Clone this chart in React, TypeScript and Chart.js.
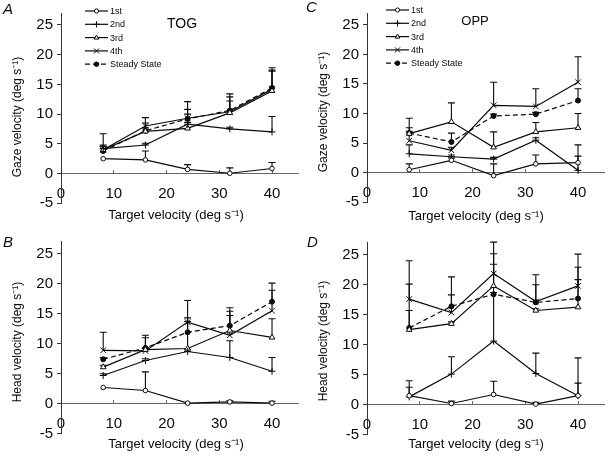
import React, { useEffect, useRef } from 'react';
import { Chart, registerables } from 'chart.js';

Chart.register(...registerables);

const FONT = '"Liberation Sans", Arial, Helvetica, sans-serif';
const W = 306;
const H = 228;
const INK = '#0a0a0a';

// ---------- data ----------
const targetVelocity = [8, 16, 24, 32, 40];
const xTickValues = [0, 10, 20, 30, 40];
const yTickValues = [-5, 0, 5, 10, 15, 20, 25];
const seriesLabels = ['1st', '2nd', '3rd', '4th', 'Steady State'];

// A: gaze velocity, TOG
const gazeTog1st = [2.5, 2.3, 0.7, 0.05, 0.85];
const gazeTog1stErr = [0, 1.5, 0.8, 0.9, 1.0];
const gazeTog2nd = [4.2, 4.8, 8.3, 7.5, 7.0];
const gazeTog2ndErr = [0.4, 0.3, 0.3, 0.3, 2.6];
const gazeTog3rd = [4.0, 7.1, 7.6, 10.2, 13.9];
const gazeTog3rdErr = [0.6, 0.6, 4.5, 2.0, 3.3];
const gazeTog4th = [4.0, 8.0, 9.3, 10.4, 14.2];
const gazeTog4thErr = [2.7, 1.4, 1.5, 3.0, 3.6];
const gazeTogSteady = [3.8, 7.2, 9.2, 10.6, 14.4];
const gazeTogSteadyErr = [1.0, 1.3, 0.8, 2.3, 3.0];

// B: head velocity, TOG
const headTog1st = [2.7, 2.2, 0.1, 0.3, 0.1];
const headTog1stErr = [0, 3.1, 0, 0.2, 0.3];
const headTog2nd = [4.7, 7.2, 8.7, 7.7, 5.4];
const headTog2ndErr = [0.3, 0.3, 0.3, 2.8, 2.3];
const headTog3rd = [6.1, 9.0, 9.2, 12.2, 11.05];
const headTog3rdErr = [0.3, 0.3, 4.5, 3.2, 3.1];
const headTog4th = [8.9, 8.8, 13.6, 11.4, 15.5];
const headTog4thErr = [3.0, 2.2, 3.6, 3.3, 3.4];
const headTogSteady = [7.4, 9.3, 11.9, 13.0, 17.0];
const headTogSteadyErr = [0.3, 2.1, 2.4, 3.0, 3.1];

// C: gaze velocity, OPP
const gazeOpp1st = [0.5, 2.1, -0.5, 1.5, 1.7];
const gazeOpp1stErr = [1.0, 0.4, 2.0, 1.5, 3.0];
const gazeOpp2nd = [3.2, 2.7, 2.3, 5.5, 0.4];
const gazeOpp2ndErr = [1.5, 0.3, 0.3, 0.4, 2.4];
const gazeOpp3rd = [6.6, 8.6, 4.3, 6.9, 7.6];
const gazeOpp3rdErr = [2.6, 3.2, 2.6, 1.6, 2.4];
const gazeOpp4th = [5.4, 3.8, 11.4, 11.2, 15.3];
const gazeOpp4thErr = [2.2, 0.5, 3.9, 3.0, 4.3];
const gazeOppSteady = [6.7, 5.2, 9.6, 9.9, 12.2];
const gazeOppSteadyErr = [0.3, 1.5, 0.3, 0.3, 2.0];

// D: head velocity, OPP
const headOpp1st = [1.5, 0.2, 1.7, 0.1, 1.5];
const headOpp1stErr = [2.5, 0.4, 2.2, 0.3, 2.1];
const headOpp2nd = [1.3, 5.1, 10.6, 5.2, 1.5];
const headOpp2ndErr = [1.6, 2.9, 16.5, 3.4, 6.3];
const headOpp3rd = [12.5, 13.5, 19.8, 15.7, 16.25];
const headOpp3rdErr = [7.6, 0.3, 3.6, 0.3, 4.6];
const headOpp4th = [17.6, 15.35, 21.85, 17.2, 19.8];
const headOpp4thErr = [6.4, 2.95, 3.3, 2.8, 5.3];
const headOppSteady = [12.8, 16.4, 18.4, 17.05, 17.7];
const headOppSteadyErr = [2.9, 4.9, 0.3, 4.6, 5.2];

// ---------- styles ----------
const pointStyles = ['circle', 'cross', 'triangle', 'crossRot', 'circle'];
const pointRadii = [2.3, 3.5, 3.3, 4, 2.5];
const pointFills = ['#ffffff', INK, '#ffffff', INK, INK];
const lineDashes: number[][] = [[], [], [], [], [5, 3]];

type Panel = {
  key: string;
  letter: string;
  cond: string | null;
  yTitle: string;
  legend: boolean;
  series: number[][];
  errs: number[][];
  zeroDash: number[];
  left: number;
  top: number;
  chartTop: number;
  chartBottom: number;
  letterX: number;
  letterY: number;
  condX: number;
  condY: number;
  condSize: number;
  xTitleX: number;
  xTitleY: number;
  yTitleY: number;
  legendX: number;
  legendY: number;
};

const panels: Panel[] = [
  {
    key: 'A', letter: 'A', cond: 'TOG', yTitle: 'Gaze velocity (deg s\u207B\u00B9)', legend: true,
    series: [gazeTog1st, gazeTog2nd, gazeTog3rd, gazeTog4th, gazeTogSteady],
    errs: [gazeTog1stErr, gazeTog2ndErr, gazeTog3rdErr, gazeTog4thErr, gazeTogSteadyErr],
    zeroDash: [], left: 0, top: 0, chartTop: 11.3, chartBottom: 203.3,
    letterX: 3, letterY: 14, condX: 182, condY: 27.5, condSize: 14,
    xTitleX: 176, xTitleY: 215, yTitleY: 117, legendX: 85, legendY: 11,
  },
  {
    key: 'C', letter: 'C', cond: 'OPP', yTitle: 'Gaze velocity (deg s\u207B\u00B9)', legend: true,
    series: [gazeOpp1st, gazeOpp2nd, gazeOpp3rd, gazeOpp4th, gazeOppSteady],
    errs: [gazeOpp1stErr, gazeOpp2ndErr, gazeOpp3rdErr, gazeOpp4thErr, gazeOppSteadyErr],
    zeroDash: [], left: 306, top: 0, chartTop: 10.3, chartBottom: 202.3,
    letterX: 0, letterY: 12, condX: 169, condY: 25, condSize: 13,
    xTitleX: 170, xTitleY: 216.5, yTitleY: 112, legendX: 80, legendY: 10,
  },
  {
    key: 'B', letter: 'B', cond: null, yTitle: 'Head velocity (deg s\u207B\u00B9)', legend: false,
    series: [headTog1st, headTog2nd, headTog3rd, headTog4th, headTogSteady],
    errs: [headTog1stErr, headTog2ndErr, headTog3rdErr, headTog4thErr, headTogSteadyErr],
    zeroDash: [], left: 0, top: 228, chartTop: 13.7, chartBottom: 205.7,
    letterX: 3, letterY: 18.5, condX: 0, condY: 0, condSize: 13,
    xTitleX: 176, xTitleY: 216.5, yTitleY: 114, legendX: 0, legendY: 0,
  },
  {
    key: 'D', letter: 'D', cond: null, yTitle: 'Head velocity (deg s\u207B\u00B9)', legend: false,
    series: [headOpp1st, headOpp2nd, headOpp3rd, headOpp4th, headOppSteady],
    errs: [headOpp1stErr, headOpp2ndErr, headOpp3rdErr, headOpp4thErr, headOppSteadyErr],
    zeroDash: [5, 2, 1, 2], left: 306, top: 228, chartTop: 14.7, chartBottom: 206.7,
    letterX: 1, letterY: 18.5, condX: 0, condY: 0, condSize: 13,
    xTitleX: 170, xTitleY: 216.5, yTitleY: 113, legendX: 0, legendY: 0,
  },
];

function drawMarker(ctx: CanvasRenderingContext2D, style: string, x: number, y: number, r: number, fill: string) {
  ctx.save();
  ctx.setLineDash([]);
  ctx.lineWidth = 1;
  ctx.strokeStyle = INK;
  ctx.fillStyle = fill;
  ctx.beginPath();
  if (style === 'circle') {
    ctx.arc(x, y, r, 0, Math.PI * 2);
    ctx.fill();
    ctx.stroke();
  } else if (style === 'triangle') {
    const rr = r * 0.85;
    ctx.moveTo(x, y - rr);
    ctx.lineTo(x - rr * 0.9, y + rr * 0.6);
    ctx.lineTo(x + rr * 0.9, y + rr * 0.6);
    ctx.closePath();
    ctx.fill();
    ctx.stroke();
  } else if (style === 'cross') {
    ctx.moveTo(x, y - r);
    ctx.lineTo(x, y + r);
    ctx.moveTo(x - r, y);
    ctx.lineTo(x + r, y);
    ctx.stroke();
  } else {
    const d = r * 0.7071;
    ctx.moveTo(x - d, y - d);
    ctx.lineTo(x + d, y + d);
    ctx.moveTo(x + d, y - d);
    ctx.lineTo(x - d, y + d);
    ctx.stroke();
  }
  ctx.restore();
}

function makeDecor(p: Panel) {
  return {
    id: 'decor' + p.key,
    beforeDatasetsDraw(chart: any) {
      const ctx: CanvasRenderingContext2D = chart.ctx;
      const ys = chart.scales.y;
      ctx.save();
      ctx.strokeStyle = INK;
      ctx.lineWidth = 1.1;
      ctx.setLineDash([]);
      p.errs.forEach((errArr, i) => {
        const meta = chart.getDatasetMeta(i);
        errArr.forEach((e, j) => {
          if (!(e > 0)) return;
          const pt = meta.data[j];
          const x = pt.x;
          const y0 = pt.y;
          const y1 = ys.getPixelForValue(p.series[i][j] + e);
          ctx.beginPath();
          ctx.moveTo(x, y0);
          ctx.lineTo(x, y1);
          ctx.moveTo(x - 3.5, y1);
          ctx.lineTo(x + 3.5, y1);
          ctx.stroke();
        });
      });
      ctx.restore();
    },
    afterDraw(chart: any) {
      const ctx: CanvasRenderingContext2D = chart.ctx;
      ctx.save();
      ctx.fillStyle = INK;
      // panel letter
      ctx.font = `italic 15px ${FONT}`;
      ctx.textAlign = 'left';
      ctx.textBaseline = 'alphabetic';
      ctx.fillText(p.letter, p.letterX, p.letterY);
      // condition label
      if (p.cond) {
        ctx.font = `${p.condSize}px ${FONT}`;
        ctx.textAlign = 'center';
        ctx.fillText(p.cond, p.condX, p.condY);
      }
      // x title
      ctx.font = `13px ${FONT}`;
      ctx.textAlign = 'center';
      ctx.textBaseline = 'middle';
      ctx.fillText('Target velocity (deg s\u207B\u00B9)', p.xTitleX, p.xTitleY);
      // y title
      ctx.save();
      ctx.translate(18, p.yTitleY);
      ctx.rotate(-Math.PI / 2);
      ctx.font = `12px ${FONT}`;
      ctx.fillText(p.yTitle, 0, 0);
      ctx.restore();
      // legend
      if (p.legend) {
        seriesLabels.forEach((lab, i) => {
          const y = p.legendY + i * 13.3;
          ctx.save();
          ctx.strokeStyle = INK;
          ctx.lineWidth = 1.2;
          ctx.setLineDash(lineDashes[i]);
          ctx.beginPath();
          ctx.moveTo(p.legendX, y);
          ctx.lineTo(p.legendX + 23, y);
          ctx.stroke();
          ctx.restore();
          drawMarker(ctx, pointStyles[i], p.legendX + 11.5, y, pointRadii[i] * 0.9, pointFills[i]);
          ctx.font = `9px ${FONT}`;
          ctx.textAlign = 'left';
          ctx.textBaseline = 'middle';
          ctx.fillStyle = INK;
          ctx.fillText(lab, p.legendX + 25, y + 0.5);
        });
      }
      ctx.restore();
    },
  };
}

function buildConfig(p: Panel): any {
  return {
    type: 'line',
    data: {
      datasets: p.series.map((vals, i) => ({
        label: seriesLabels[i],
        data: targetVelocity.map((x, j) => ({ x, y: vals[j] })),
        borderColor: INK,
        borderWidth: 1.2,
        borderDash: lineDashes[i],
        pointStyle: pointStyles[i],
        pointRadius: pointRadii[i],
        pointBackgroundColor: pointFills[i],
        pointBorderColor: INK,
        pointBorderWidth: 1,
        tension: 0,
        fill: false,
      })),
    },
    options: {
      responsive: false,
      animation: false,
      events: [],
      layout: { padding: { top: p.chartTop, bottom: H - p.chartBottom, left: 0, right: 7.6 } },
      plugins: { legend: { display: false }, tooltip: { enabled: false }, title: { display: false } },
      scales: {
        x: {
          type: 'linear',
          min: 0,
          max: 45,
          position: { y: 0 },
          afterBuildTicks: (s: any) => { s.ticks = xTickValues.map((v) => ({ value: v })); },
          afterFit: (s: any) => { s.height = 0; },
          ticks: { font: { size: 15, family: FONT }, color: INK, padding: 15.5, maxRotation: 0, autoSkip: false },
          grid: { drawOnChartArea: false, drawTicks: true, tickLength: -4, color: '#666' },
          border: { color: '#666', width: 1, dash: p.zeroDash },
        },
        y: {
          type: 'linear',
          min: -5,
          max: 27,
          position: 'left',
          afterBuildTicks: (s: any) => { s.ticks = yTickValues.map((v) => ({ value: v })); },
          afterFit: (s: any) => { s.width = 61; },
          ticks: { font: { size: 15, family: FONT }, color: INK, padding: 4 },
          grid: { drawOnChartArea: false, drawTicks: true, tickLength: 4, color: '#333' },
          border: { color: '#333', width: 1 },
        },
      },
    },
    plugins: [makeDecor(p)],
  };
}

function PanelChart({ panel }: { panel: Panel }) {
  const ref = useRef<HTMLCanvasElement>(null);
  useEffect(() => {
    if (!ref.current) return;
    const chart = new Chart(ref.current, buildConfig(panel));
    return () => chart.destroy();
  }, [panel]);
  return (
    <canvas
      ref={ref}
      width={W}
      height={H}
      style={{ position: 'absolute', left: panel.left, top: panel.top, width: W, height: H }}
    />
  );
}

export default function App() {
  return (
    <div style={{ position: 'fixed', left: 0, top: 0, width: 612, height: 456, background: '#fff', overflow: 'hidden' }}>
      {panels.map((p) => (
        <PanelChart key={p.key} panel={p} />
      ))}
    </div>
  );
}
